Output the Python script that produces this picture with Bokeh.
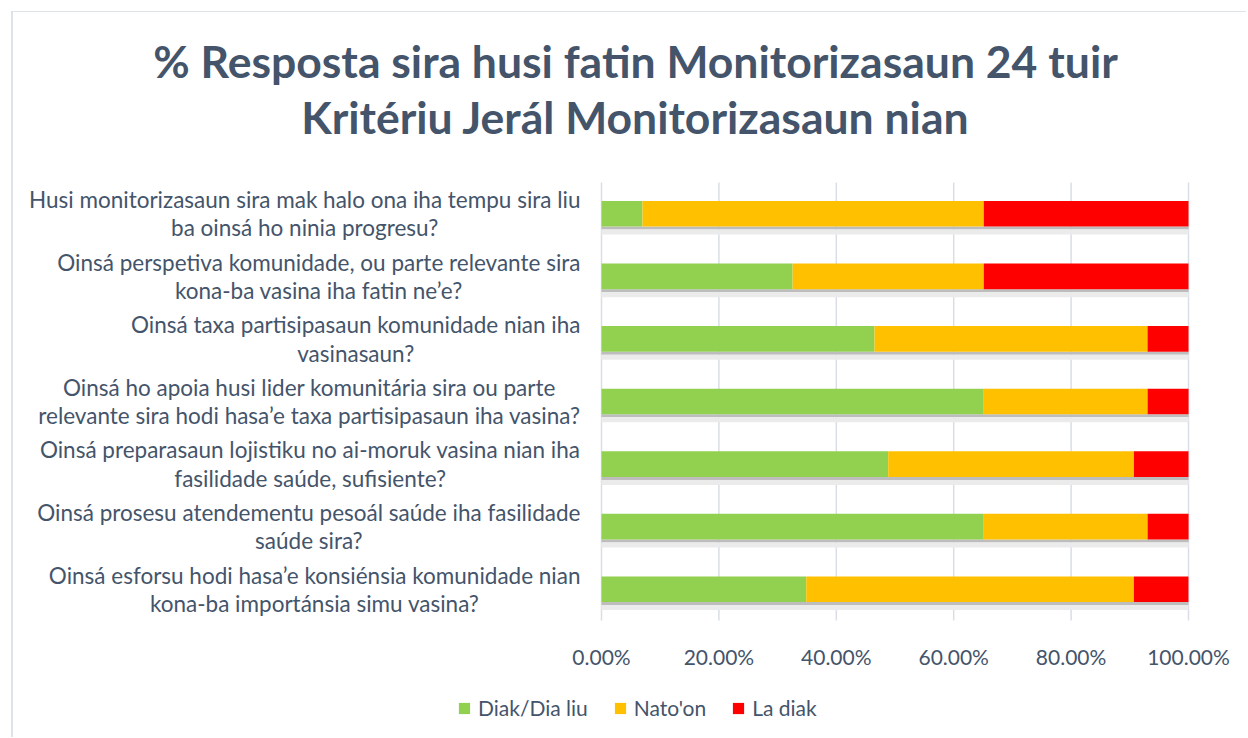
from bokeh.plotting import figure
from bokeh.models import ColumnDataSource, Range1d, Label, Legend, LegendItem
from bokeh.core.properties import value
from bokeh.embed import file_html
from bokeh.resources import INLINE

# ---------------- data ----------------
categories = [
    "Husi monitorizasaun sira mak halo ona iha tempu sira liu\nba oinsá ho ninia progresu?",
    "Oinsá perspetiva komunidade, ou parte relevante sira\nkona-ba vasina iha fatin ne\u2019e?",
    "Oinsá taxa partisipasaun komunidade nian iha\nvasinasaun?",
    "Oinsá ho apoia husi lider komunitária sira ou parte\nrelevante sira hodi hasa\u2019e taxa partisipasaun iha vasina?",
    "Oinsá preparasaun lojistiku no ai-moruk vasina nian iha\nfasilidade saúde, sufisiente?",
    "Oinsá prosesu atendementu pesoál saúde iha fasilidade\nsaúde sira?",
    "Oinsá esforsu hodi hasa\u2019e konsiénsia komunidade nian\nkona-ba importánsia simu vasina?",
]
series_names = ["Diak/Dia liu", "Nato'on", "La diak"]
diak = [6.98, 32.56, 46.51, 65.12, 48.84, 65.12, 34.88]
natoon = [58.14, 32.56, 46.51, 27.91, 41.86, 27.91, 55.81]
la_diak = [34.88, 34.88, 6.98, 6.98, 9.30, 6.98, 9.30]
series_colors = ["#92D050", "#FFC000", "#FF0000"]
x_ticks = [0, 20, 40, 60, 80, 100]
tick_labels = ["%.2f%%" % t for t in x_ticks]
title_text = "% Resposta sira husi fatin Monitorizasaun 24 tuir\nKritériu Jerál Monitorizasaun nian"

# ---------------- layout constants (page pixels) ----------------
FONT = "Lato"
TEXT = "#44546A"
OX, OY = 13, 12                 # figure origin on page (after margin + border)
FIG_W, FIG_H = 1248 - OX, 738 - OY
X0_PX, X100_PX = 601, 1188      # page x of 0 % and 100 %
CAT_T, CAT_B = 182, 620         # page y of top / bottom of category area
TICK_Y = 656                    # page y of tick label centres

n = len(categories)
unit = (CAT_B - CAT_T) / n
px_per_pct = (X100_PX - X0_PX) / 100.0

ypos = [n - 1 - i for i in range(n)]
bar_h = 0.41
total = [a + b + c for a, b, c in zip(diak, natoon, la_diak)]
src = ColumnDataSource(dict(
    y=ypos, diak=diak, natoon=natoon, la_diak=la_diak, total=total,
    sh1=[y - (bar_h / 2 + 1.5 / unit) for y in ypos],
    sh2=[y - (bar_h / 2 + 5.5 / unit) for y in ypos],
))

y_bottom = -0.5 - (738 - CAT_B) / unit
y_top = n - 0.5 + (CAT_T - OY) / unit
p = figure(
    width=FIG_W, height=FIG_H,
    x_range=Range1d(-(X0_PX - OX) / px_per_pct, 100 + (1248 - X100_PX) / px_per_pct),
    y_range=Range1d(y_bottom, y_top),
    output_backend="svg", toolbar_location=None,
    min_border=0,
    styles={"margin-left": "11px", "margin-top": "11px",
            "border-left": "2px solid #DDE3EA", "border-top": "1px solid #DDE3EA"},
)
p.outline_line_color = None
p.background_fill_color = "white"
p.border_fill_color = "white"
p.xgrid.visible = False
p.ygrid.visible = False
p.xaxis.visible = False
p.yaxis.visible = False

# gridlines only across category area
p.segment(x0=x_ticks, x1=x_ticks, y0=-0.5, y1=n - 0.5, line_color="#D9DEE6", line_width=1.5)

# tick labels
tick_y = -0.5 - (TICK_Y - CAT_B) / unit
p.text(x=x_ticks, y=[tick_y] * len(x_ticks), text=tick_labels,
       text_align="center", text_baseline="middle",
       text_font=value(FONT), text_font_size="21px", text_color=TEXT)

# shadows
p.hbar(y="sh1", left=0, right="total", height=3 / unit, source=src, color="#BDBDBD", line_color=None)
p.hbar(y="sh2", left=0, right="total", height=5 / unit, source=src, color="#EBEBEB", line_color=None)

rs = p.hbar_stack(["diak", "natoon", "la_diak"], y="y", height=bar_h, color=series_colors,
                  line_color=None, source=src)

legend = Legend(
    items=[LegendItem(label=nm, renderers=[r]) for nm, r in zip(series_names, rs)],
    orientation="horizontal", location=(457 - OX, 738 - 720),
    glyph_width=14, glyph_height=14, label_standoff=7, spacing=25,
    label_text_font=FONT, label_text_font_size="21px", label_text_color=TEXT,
    padding=0, margin=0, border_line_color=None, background_fill_alpha=0,
)
p.add_layout(legend)

for c, y in zip(categories, ypos):
    p.add_layout(Label(
        x=0, y=y, x_offset=-21, text=c,
        text_align="center", text_baseline="middle", anchor="center_right",
        text_font=FONT, text_font_size="22.5px", text_line_height=1.05, text_color=TEXT,
    ))

p.add_layout(Label(
    x=635 - OX, y=738 - 88, x_units="screen", y_units="screen", text=title_text,
    text_align="center", text_baseline="middle", anchor="center",
    text_font=FONT, text_font_size="44.5px", text_font_style="bold",
    text_line_height=1.07, text_color=TEXT,
))

open("out.html", "w").write(file_html(p, INLINE))
